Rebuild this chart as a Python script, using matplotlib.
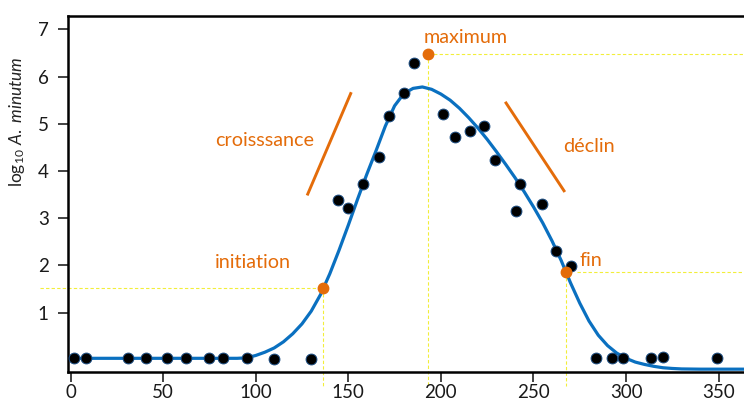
import matplotlib
matplotlib.use("Agg")
import matplotlib.pyplot as plt

plt.rcParams['font.family'] = ['Lato', 'DejaVu Sans']
plt.rcParams['mathtext.fontset'] = 'custom'
plt.rcParams['mathtext.rm'] = 'Lato'
plt.rcParams['mathtext.it'] = 'Lato:italic'

# Observed abundances (day, log10 cells)
obs_day = [1.9, 8.4, 31.2, 40.8, 52.3, 62.3, 74.9, 82.5, 95.4, 109.9, 129.9,
           144.6, 150.0, 158.1, 166.7, 172.1, 180.1, 185.5,
           201.3, 207.4, 215.5, 223.4, 229.2, 240.7, 242.7, 254.6, 262.2, 270.1,
           283.6, 292.2, 298.2, 313.3, 319.8, 348.9]
obs_log = [0.03, 0.03, 0.03, 0.03, 0.03, 0.03, 0.04, 0.04, 0.03, 0.01, 0.01,
           3.38, 3.21, 3.72, 4.30, 5.17, 5.66, 6.29,
           5.20, 4.73, 4.84, 4.96, 4.24, 3.16, 3.73, 3.29, 2.30, 1.99,
           0.03, 0.03, 0.03, 0.03, 0.06, 0.03]

# Fitted bloom curve
fit_day = [0, 10, 20, 30, 40, 50, 60, 70, 80, 90, 95, 100, 105, 110, 115, 120,
           125, 130, 135, 140, 145, 150, 155, 160, 165, 170, 175, 180, 185, 190,
           195, 200, 205, 210, 215, 220, 225, 230, 235, 240, 245, 250, 255, 260,
           265, 270, 275, 280, 285, 290, 295, 300, 305, 310, 315, 320, 325, 330,
           340, 350, 364]
fit_log = [0.03, 0.03, 0.03, 0.03, 0.03, 0.03, 0.03, 0.03, 0.03, 0.03, 0.04,
           0.09, 0.16, 0.25, 0.38, 0.55, 0.76, 1.03, 1.38, 1.82, 2.32, 2.85,
           3.40, 3.93, 4.43, 4.95, 5.38, 5.64, 5.75, 5.78, 5.73, 5.63, 5.50,
           5.33, 5.13, 4.91, 4.67, 4.41, 4.14, 3.86, 3.56, 3.24, 2.90, 2.52,
           2.10, 1.63, 1.20, 0.82, 0.52, 0.30, 0.14, 0.03, -0.05, -0.10, -0.14,
           -0.17, -0.185, -0.195, -0.20, -0.20, -0.20]

# Phase markers
phase_names = ['initiation', 'maximum', 'fin']
phase_day = [136.5, 193.2, 267.5]
phase_log = [1.52, 6.47, 1.85]

# Growth / decline trend segments
trend_names = ['croisssance', 'déclin']
trend_day = [(128.1, 151.3), (235.2, 266.5)]
trend_log = [(3.51, 5.64), (5.44, 3.58)]

x_ticks = [0, 50, 100, 150, 200, 250, 300, 350]
y_ticks = [1, 2, 3, 4, 5, 6, 7]

ORANGE = '#E46C0A'
BLUE = '#0A70C0'
GUIDE = '#F2EE3A'

fig = plt.figure(figsize=(7.44, 4.01), dpi=100)
ax = fig.add_axes([68.3 / 744, (401 - 372) / 401, 1 - 68.3 / 744, (372 - 15.7) / 401])
xmin, xmax = -1.2, 363.7
ymin, ymax = -0.26, 7.29
ax.set_xlim(xmin, xmax)
ax.set_ylim(ymin, ymax)

for side in ['left', 'bottom', 'top']:
    ax.spines[side].set_linewidth(1.8)
    ax.spines[side].set_color('black')
ax.spines['right'].set_visible(False)

ax.set_xticks(x_ticks)
ax.set_yticks(y_ticks)
ax.tick_params(axis='both', direction='out', length=7, width=1.2,
               color='#222222', labelsize=13.5, labelcolor='#1a1a1a')
ax.tick_params(axis='x', pad=2)
ax.tick_params(axis='y', pad=7)

# Dashed guide lines from the phase markers
guide_kw = dict(color=GUIDE, lw=0.8, ls=(0, (3, 2)), clip_on=False, zorder=1)
guide_bottom = -0.56
ax.plot([-16.5, phase_day[0]], [phase_log[0], phase_log[0]], **guide_kw)
for d, v in zip(phase_day, phase_log):
    ax.plot([d, d], [v, guide_bottom], **guide_kw)
ax.plot([phase_day[1], xmax], [phase_log[1], phase_log[1]], **guide_kw)
ax.plot([phase_day[2] + 6, xmax], [phase_log[2], phase_log[2]], **guide_kw)

# Fitted curve and observations
ax.plot(fit_day, fit_log, color=BLUE, lw=2.3, zorder=3, solid_capstyle='round')
ax.plot(obs_day, obs_log, 'o', ms=7.8, mfc='black', mec='#1d4f85', mew=0.7,
        zorder=4, clip_on=False)
ax.plot(phase_day, phase_log, 'o', ms=7.5, mfc=ORANGE, mec=ORANGE, zorder=5,
        clip_on=False)

# Trend segments
for (d0, d1), (v0, v1) in zip(trend_day, trend_log):
    ax.plot([d0, d1], [v0, v1], color=ORANGE, lw=2.1, zorder=2)

# Annotations
txt_kw = dict(color=ORANGE, fontsize=14.2, ha='left', va='center')
ax.text(78.0, 2.05, phase_names[0], **txt_kw)
ax.text(190.9, 6.82, phase_names[1], **txt_kw)
ax.text(275.1, 2.10, phase_names[2], **txt_kw)
ax.text(78.0, 4.65, trend_names[0], **txt_kw)
ax.text(265.8, 4.51, trend_names[1], **txt_kw)

fig.text(17 / 744, 1 - 122 / 401, r'log$_{\mathregular{10}}$ $\mathit{A.\ minutum}$',
         rotation=90, ha='center', va='center', fontsize=12.5, color='#222222')

fig.savefig('out.png', dpi=100)
